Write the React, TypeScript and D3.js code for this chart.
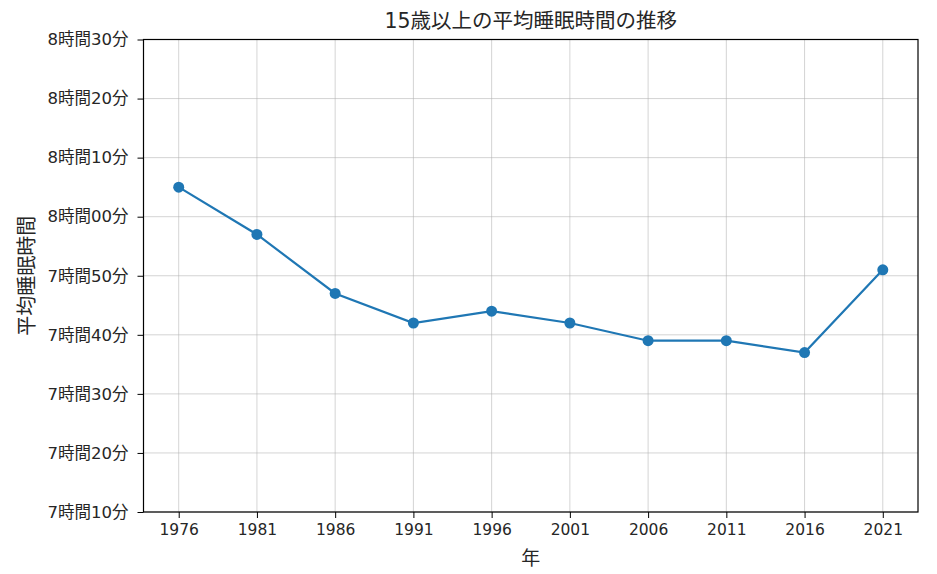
import { useEffect, useRef } from 'react';
import * as d3 from 'd3';

// 調査年と平均睡眠時間（分）
const years = [1976, 1981, 1986, 1991, 1996, 2001, 2006, 2011, 2016, 2021];
const sleepMinutes = [485, 477, 467, 462, 464, 462, 459, 459, 457, 471];
const yTicks = [430, 440, 450, 460, 470, 480, 490, 500, 510];

const title = '15歳以上の平均睡眠時間の推移';
const xLabel = '年';
const yLabel = '平均睡眠時間';

const width = 937;
const height = 574;
const FONT = '"DejaVu Sans", "Noto Sans CJK JP", sans-serif';

const fmtMinutes = (m: number) => {
  const h = Math.floor(m / 60);
  const mm = m % 60;
  return `${h}時間${String(mm).padStart(2, '0')}分`;
};

const App = () => {
  const svgRef = useRef<SVGSVGElement>(null);

  useEffect(() => {
    document.body.style.margin = '0';
    if (!svgRef.current) return;

    const svg = d3.select(svgRef.current);
    svg.selectAll('*').remove();

    const margin = { top: 39.5, right: 19, bottom: 62, left: 143.5 };
    const innerWidth = width - margin.left - margin.right;
    const innerHeight = height - margin.top - margin.bottom;

    const g = svg.append('g')
      .attr('transform', `translate(${margin.left},${margin.top})`);

    // matplotlib風の5%余白
    const span = years[years.length - 1] - years[0];
    const xScale = d3.scaleLinear()
      .domain([years[0] - span * 0.05, years[years.length - 1] + span * 0.05])
      .range([0, innerWidth]);

    const yScale = d3.scaleLinear()
      .domain([430, 510])
      .range([innerHeight, 0]);

    // Grid
    g.append('g')
      .selectAll('line')
      .data(years)
      .join('line')
      .attr('x1', d => xScale(d))
      .attr('x2', d => xScale(d))
      .attr('y1', 0)
      .attr('y2', innerHeight)
      .attr('stroke', '#b0b0b0')
      .attr('stroke-opacity', 0.55)
      .attr('stroke-width', 1);

    g.append('g')
      .selectAll('line')
      .data(yTicks)
      .join('line')
      .attr('x1', 0)
      .attr('x2', innerWidth)
      .attr('y1', d => yScale(d))
      .attr('y2', d => yScale(d))
      .attr('stroke', '#b0b0b0')
      .attr('stroke-opacity', 0.55)
      .attr('stroke-width', 1);

    // Axes
    const xAxis = d3.axisBottom(xScale)
      .tickValues(years)
      .tickFormat(d => String(d))
      .tickSize(6)
      .tickPadding(6);

    const yAxis = d3.axisLeft(yScale)
      .tickValues(yTicks)
      .tickFormat(d => fmtMinutes(d as number))
      .tickSize(6)
      .tickPadding(9);

    g.append('g')
      .attr('transform', `translate(0,${innerHeight})`)
      .call(xAxis)
      .selectAll('text')
      .style('font-family', FONT)
      .style('font-size', '15.5px')
      .style('fill', '#262626');

    g.append('g')
      .call(yAxis)
      .selectAll('text')
      .style('font-family', FONT)
      .style('font-size', '16.5px')
      .style('fill', '#262626');

    g.selectAll('.domain').remove();
    g.selectAll('.tick line').style('stroke', '#000').style('stroke-width', 1);

    // Frame
    g.append('rect')
      .attr('x', 0)
      .attr('y', 0)
      .attr('width', innerWidth)
      .attr('height', innerHeight)
      .attr('fill', 'none')
      .attr('stroke', '#000')
      .attr('stroke-width', 1.2);

    // Line
    const line = d3.line<number>()
      .x((_, i) => xScale(years[i]))
      .y(d => yScale(d));

    g.append('path')
      .datum(sleepMinutes)
      .attr('d', line)
      .attr('fill', 'none')
      .attr('stroke', '#1f77b4')
      .attr('stroke-width', 2.2);

    g.selectAll('.dot')
      .data(sleepMinutes)
      .join('circle')
      .attr('class', 'dot')
      .attr('cx', (_, i) => xScale(years[i]))
      .attr('cy', d => yScale(d))
      .attr('r', 5.5)
      .attr('fill', '#1f77b4');

    // Title
    svg.append('text')
      .attr('x', margin.left + innerWidth / 2)
      .attr('y', 28)
      .attr('text-anchor', 'middle')
      .style('font-family', FONT)
      .style('font-size', '20.5px')
      .style('fill', '#262626')
      .text(title);

    // X label
    svg.append('text')
      .attr('x', margin.left + innerWidth / 2)
      .attr('y', 565)
      .attr('text-anchor', 'middle')
      .style('font-family', FONT)
      .style('font-size', '19px')
      .style('fill', '#262626')
      .text(xLabel);

    // Y label
    svg.append('text')
      .attr('transform', `translate(34,${margin.top + innerHeight / 2}) rotate(-90)`)
      .attr('text-anchor', 'middle')
      .style('font-family', FONT)
      .style('font-size', '20px')
      .style('fill', '#262626')
      .text(yLabel);
  }, []);

  return <svg ref={svgRef} width={width} height={height} style={{ display: 'block', background: '#fff' }} />;
};

export default App;
